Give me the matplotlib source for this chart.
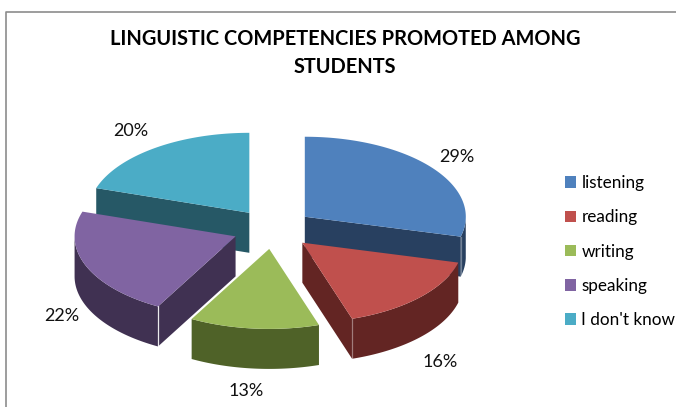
import numpy as np
import matplotlib
matplotlib.use("Agg")
import matplotlib.pyplot as plt
from matplotlib.patches import Patch, Polygon

categories = ["listening", "reading", "writing", "speaking", "I don't know"]
values = [29, 16, 13, 22, 20]
top_colors = ["#4F81BD", "#C0504D", "#9BBB59", "#8064A2", "#4BACC6"]
wall_colors = ["#284060", "#632523", "#4F6228", "#403152", "#265866"]
title_lines = "LINGUISTIC COMPETENCIES PROMOTED AMONG\nSTUDENTS"

# pie geometry, in pixels of the figure
cx, cy = 273, 229
rx, ry = 161, 80
depth = 40
explode = 0.25
label_pos = [(457, 157), (440, 362), (246, 391), (62, 316), (131, 131)]

plt.rcParams["font.family"] = ["Lato", "DejaVu Sans"]

fig = plt.figure(figsize=(6.76, 4.07), dpi=100)
ax = fig.add_axes([0, 0, 1, 1])
ax.set_xlim(0, 676)
ax.set_ylim(407, 0)
ax.axis("off")

# chart frame, only top and left are in view
ax.plot([676, 5.5, 5.5], [11.5, 11.5, 407], color="#8c8c8c", lw=1.2, clip_on=False)


def point(apex, angle):
    return apex[0] + rx * np.sin(angle), apex[1] - ry * np.cos(angle)


def draw_wedge(i, start, end, z):
    mid = (start + end) / 2
    apex = (cx + explode * rx * np.sin(mid), cy - explode * ry * np.cos(mid))
    t = np.linspace(start, end, 80)
    xs, ys = point(apex, t)

    # radial side faces, only those turned towards the viewer
    for a, normal in ((start, start - np.pi / 2), (end, end + np.pi / 2)):
        if np.cos(normal) < -1e-6:
            x, y = point(apex, a)
            face = [apex, (x, y), (x, y + depth), (apex[0], apex[1] + depth)]
            ax.add_patch(Polygon(face, fc=wall_colors[i], ec="none", zorder=z))

    # outer rim on the near half of the ellipse
    front = np.cos(t) <= 0
    if front.any():
        fx, fy = xs[front], ys[front]
        rim = np.column_stack([np.r_[fx, fx[::-1]], np.r_[fy, fy[::-1] + depth]])
        ax.add_patch(Polygon(rim, fc=wall_colors[i], ec="none", zorder=z + 0.1))
        # light edge where rim and side face meet
        if i in (0, 1, 3):
            edge_x = fx[-1] if i < 3 else fx[0]
            edge_y = fy[-1] if i < 3 else fy[0]
            ax.plot([edge_x, edge_x], [edge_y, edge_y + depth], color="white",
                    lw=0.9, alpha=0.9 if i == 3 else 0.35, zorder=z + 0.2)

    top = np.column_stack([np.r_[apex[0], xs], np.r_[apex[1], ys]])
    ax.add_patch(Polygon(top, fc=top_colors[i], ec="none", zorder=z + 0.3))


fractions = np.array(values) / sum(values)
edges = np.r_[0, np.cumsum(fractions)] * 2 * np.pi

# back wedges first so the near ones cover their walls
for z, i in enumerate([4, 0, 3, 1, 2], start=1):
    draw_wedge(i, edges[i], edges[i + 1], z)

for v, (x, y) in zip(values, label_pos):
    ax.text(x, y, f"{v}%", ha="center", va="center", fontsize=13, color="#111111", zorder=30)

ax.text(345, 53, title_lines, ha="center", va="center", fontsize=14.4, fontweight="bold",
        color="black", linespacing=1.55, zorder=30)

handles = [Patch(fc=c, ec="none") for c in top_colors]
fig.legend(handles, categories, loc="upper left", bbox_to_anchor=(0.836, 0.57),
           frameon=False, fontsize=12.3, handlelength=0.65, handleheight=0.65,
           handletextpad=0.3, labelspacing=1.07, borderpad=0, borderaxespad=0)

fig.savefig("out.png", dpi=100)
